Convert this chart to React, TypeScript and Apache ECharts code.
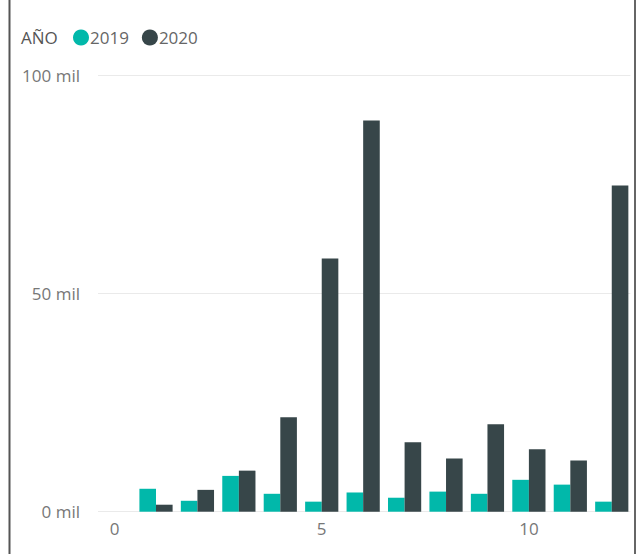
import React, { useEffect, useRef } from "react";
import * as echarts from "echarts";

const months = [1, 2, 3, 4, 5, 6, 7, 8, 9, 10, 11, 12];
const values2019 = [5250, 2500, 8200, 4100, 2300, 4400, 3200, 4600, 4100, 7300, 6200, 2300];
const values2020 = [1600, 5000, 9400, 21600, 58000, 89600, 15900, 12200, 20000, 14300, 11700, 74700];
const seriesNames = ["2019", "2020"];
const colors = ["#01B8AA", "#374649"];
const legendTitle = "AÑO";
const xTickStep = 5;

const FONT = "'Segoe UI', 'Open Sans', 'DejaVu Sans', sans-serif";

export default function App() {
  const ref = useRef<HTMLDivElement>(null);
  useEffect(() => {
    if (!ref.current) return;
    const chart = echarts.init(ref.current, undefined, { renderer: "svg" });
    const mk = (vals: number[]) => months.map((m, i) => [m, vals[i]]);
    chart.setOption({
      animation: false,
      backgroundColor: "#ffffff",
      color: colors,
      textStyle: { fontFamily: FONT },
      legend: {
        left: 73,
        top: 29,
        padding: 0,
        icon: "circle",
        itemWidth: 16,
        itemHeight: 16,
        itemGap: 13,
        data: seriesNames,
        textStyle: { color: "#666666", fontSize: 17, padding: [0, 0, 0, -4], fontFamily: FONT },
      },
      grid: { left: 98, right: 12.6, top: 75, bottom: 42.3, containLabel: false },
      xAxis: {
        type: "value",
        min: -0.4,
        max: 12.45,
        interval: 0.2,
        axisLine: { show: false },
        axisTick: { show: false },
        splitLine: { show: false },
        axisLabel: {
          color: "#777777",
          fontSize: 17,
          margin: 8,
          showMinLabel: false,
          showMaxLabel: false,
          formatter: (v: number) => {
            const r = Math.round(v / xTickStep) * xTickStep;
            return Math.abs(v - r) < 1e-6 ? String(r) : "";
          },
        },
      },
      yAxis: {
        type: "value",
        min: 0,
        max: 100000,
        interval: 50000,
        axisLine: { show: false },
        axisTick: { show: false },
        splitLine: { lineStyle: { color: "#eaeaea", width: 1 } },
        axisLabel: {
          color: "#777777",
          fontSize: 17,
          margin: 18,
          formatter: (v: number) => `${v / 1000} mil`,
        },
      },
      series: [
        { name: seriesNames[0], type: "bar", data: mk(values2019), barWidth: 16.6, barGap: "0%" },
        { name: seriesNames[1], type: "bar", data: mk(values2020), barWidth: 16.6, barGap: "0%" },
      ],
      graphic: [
        {
          type: "text",
          x: 21,
          y: 37,
          style: {
            text: legendTitle,
            fill: "#555555",
            font: `17px ${FONT}`,
            verticalAlign: "middle",
          },
        },
        { type: "line", shape: { x1: 9.5, y1: 0, x2: 9.5, y2: 554 }, style: { stroke: "#555555", lineWidth: 2 } },
        { type: "line", shape: { x1: 635, y1: 0, x2: 635, y2: 554 }, style: { stroke: "#666666", lineWidth: 2 } },
      ],
    });
    return () => chart.dispose();
  }, []);
  return (
    <div
      ref={ref}
      style={{ position: "absolute", left: 0, top: 0, width: 643, height: 554 }}
    />
  );
}
